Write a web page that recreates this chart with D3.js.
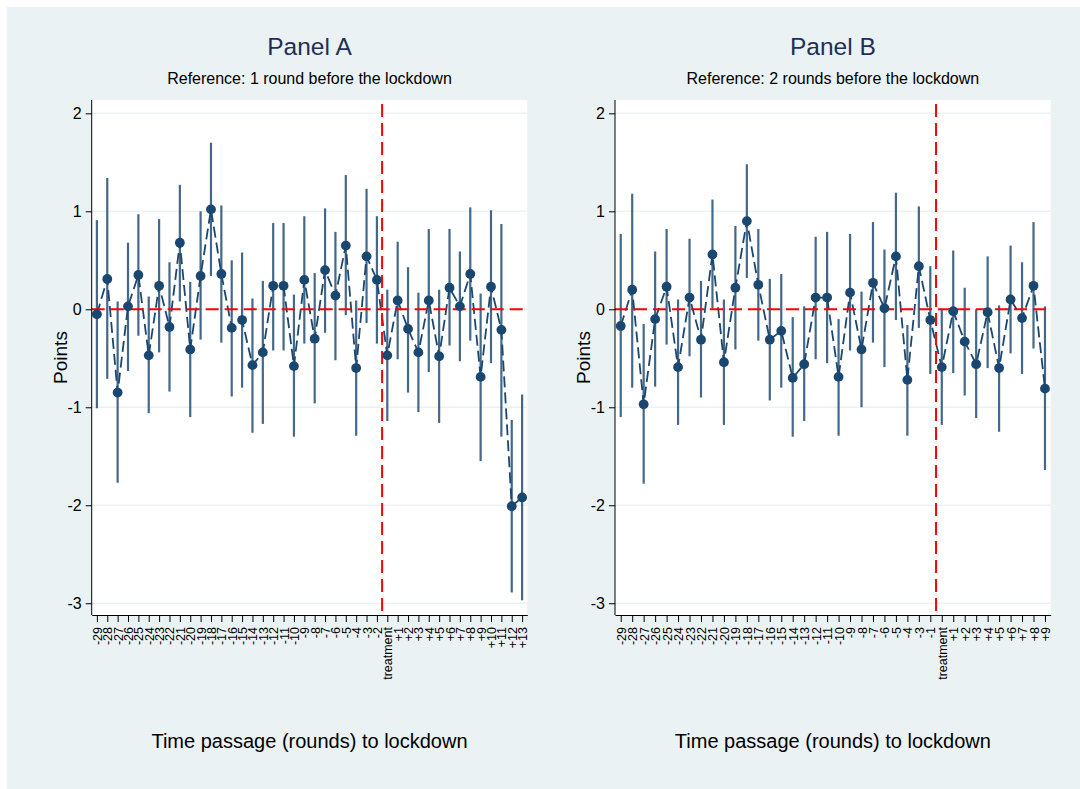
<!DOCTYPE html>
<html>
<head>
<meta charset="utf-8">
<script src="https://cdn.jsdelivr.net/npm/d3@7"></script>
<style>
  body { margin: 0; background: #fff; }
  text { font-family: "Liberation Sans", Arial, sans-serif; }
</style>
</head>
<body>
<svg id="chart" width="1080" height="789"></svg>
<script>
// Panel A: reference = 1 round before lockdown (-1 omitted)
var catsA = ["-29","-28","-27","-26","-25","-24","-23","-22","-21","-20","-19","-18","-17","-16","-15",
  "-14","-13","-12","-11","-10","-9","-8","-7","-6","-5","-4","-3","-2","treatment",
  "+1","+2","+3","+4","+5","+6","+7","+8","+9","+10","+11","+12","+13"];
var coefA = [-0.05, 0.31, -0.85, 0.03, 0.35, -0.47, 0.24, -0.18, 0.68, -0.41, 0.34, 1.02, 0.36, -0.19, -0.11,
  -0.57, -0.44, 0.24, 0.24, -0.58, 0.30, -0.30, 0.40, 0.14, 0.65, -0.60, 0.54, 0.30, -0.47,
  0.09, -0.20, -0.44, 0.09, -0.48, 0.22, 0.03, 0.36, -0.69, 0.23, -0.21, -2.01, -1.92];
var loA = [-1.01, -0.71, -1.77, -0.63, -0.27, -1.06, -0.44, -0.84, 0.08, -1.10, -0.31, 0.34, -0.34, -0.89, -0.80,
  -1.26, -1.17, -0.42, -0.42, -1.30, -0.35, -0.96, -0.24, -0.52, -0.06, -1.29, -0.14, -0.35, -1.14,
  -0.51, -0.85, -1.05, -0.64, -1.16, -0.37, -0.53, -0.32, -1.55, -0.55, -1.30, -2.89, -2.97];
var hiA = [0.91, 1.34, 0.08, 0.68, 0.97, 0.13, 0.92, 0.48, 1.27, 0.28, 1.00, 1.70, 1.06, 0.50, 0.58,
  0.11, 0.29, 0.88, 0.88, 0.15, 0.95, 0.37, 1.03, 0.79, 1.37, 0.09, 1.23, 0.95, 0.20,
  0.69, 0.43, 0.17, 0.82, 0.20, 0.82, 0.59, 1.04, 0.16, 1.01, 0.87, -1.13, -0.87];

// Panel B: reference = 2 rounds before lockdown (-2 omitted)
var catsB = ["-29","-28","-27","-26","-25","-24","-23","-22","-21","-20","-19","-18","-17","-16","-15",
  "-14","-13","-12","-11","-10","-9","-8","-7","-6","-5","-4","-3","-1","treatment",
  "+1","+2","+3","+4","+5","+6","+7","+8","+9"];
var coefB = [-0.17, 0.20, -0.97, -0.10, 0.23, -0.59, 0.12, -0.31, 0.56, -0.54, 0.22, 0.90, 0.25, -0.31, -0.22,
  -0.70, -0.56, 0.12, 0.12, -0.69, 0.17, -0.41, 0.27, 0.01, 0.54, -0.72, 0.44, -0.11, -0.59,
  -0.02, -0.33, -0.56, -0.03, -0.60, 0.10, -0.09, 0.24, -0.81];
var loB = [-1.10, -0.80, -1.78, -0.79, -0.36, -1.18, -0.48, -0.90, 0.01, -1.18, -0.41, 0.32, -0.32, -0.93, -0.80,
  -1.30, -1.14, -0.51, -0.55, -1.29, -0.42, -1.00, -0.34, -0.59, -0.11, -1.29, -0.19, -0.66, -1.18,
  -0.65, -0.88, -1.11, -0.60, -1.25, -0.45, -0.66, -0.40, -1.64];
var hiB = [0.77, 1.18, -0.15, 0.59, 0.82, 0.10, 0.72, 0.29, 1.12, 0.10, 0.85, 1.48, 0.82, 0.31, 0.36,
  -0.08, 0.03, 0.74, 0.79, -0.10, 0.77, 0.18, 0.89, 0.61, 1.19, -0.16, 1.05, 0.44, 0.00,
  0.60, 0.22, 0.00, 0.54, 0.04, 0.65, 0.48, 0.89, 0.03];

var yTicks = [2, 1, 0, -1, -2, -3];
var titles = ["Panel A", "Panel B"];
var subtitles = ["Reference: 1 round before the lockdown", "Reference: 2 rounds before the lockdown"];
var xTitle = "Time passage (rounds) to lockdown";
var yTitle = "Points";

var navy = "#1a476f";
var svg = d3.select("#chart");

svg.append("rect")
  .attr("x", 7).attr("y", 7)
  .attr("width", 1073).attr("height", 782)
  .attr("fill", "#eaf2f3");

var panels = [
  { cats: catsA, coef: coefA, lo: loA, hi: hiA, x0: 91.7, x1: 527.3 },
  { cats: catsB, coef: coefB, lo: loB, hi: hiB, x0: 615, x1: 1050.7 }
];

var plotTop = 100, plotBottom = 615;

panels.forEach(function(p, k) {
  var g = svg.append("g");
  var x = d3.scalePoint().domain(p.cats).range([p.x0, p.x1]).padding(0.5);
  var y = d3.scaleLinear().domain([-3.12, 2.136]).range([plotBottom, plotTop]);
  var cx = (p.x0 + p.x1) / 2;

  // plot region
  g.append("rect")
    .attr("x", p.x0).attr("y", plotTop)
    .attr("width", p.x1 - p.x0).attr("height", plotBottom - plotTop)
    .attr("fill", "#fff");

  // gridlines
  g.selectAll(".grid").data(yTicks).enter().append("line")
    .attr("x1", p.x0).attr("x2", p.x1)
    .attr("y1", function(d) { return y(d); })
    .attr("y2", function(d) { return y(d); })
    .attr("stroke", "#eaf2f3").attr("stroke-width", 1.5);

  var data = p.cats.map(function(c, i) {
    return { c: c, v: p.coef[i], lo: p.lo[i], hi: p.hi[i] };
  });

  // confidence spikes
  g.selectAll(".ci").data(data).enter().append("line")
    .attr("x1", function(d) { return x(d.c); })
    .attr("x2", function(d) { return x(d.c); })
    .attr("y1", function(d) { return y(d.lo); })
    .attr("y2", function(d) { return y(d.hi); })
    .attr("stroke", navy).attr("stroke-opacity", 0.82)
    .attr("stroke-width", 2.2);

  // connecting dashed line
  var line = d3.line()
    .x(function(d) { return x(d.c); })
    .y(function(d) { return y(d.v); });
  g.append("path").datum(data)
    .attr("d", line)
    .attr("fill", "none")
    .attr("stroke", navy).attr("stroke-width", 1.8)
    .attr("stroke-dasharray", "11,5");

  // reference lines
  var xl = x(p.cats[27]) + x.step() / 2;
  g.append("line")
    .attr("x1", p.x0).attr("x2", p.x1)
    .attr("y1", y(0)).attr("y2", y(0))
    .attr("stroke", "#ff0000").attr("stroke-width", 2)
    .attr("stroke-dasharray", "13,6");
  g.append("line")
    .attr("x1", xl).attr("x2", xl)
    .attr("y1", plotTop + 4).attr("y2", plotBottom)
    .attr("stroke", "#ff0000").attr("stroke-width", 2)
    .attr("stroke-dasharray", "13,6");

  // markers
  g.selectAll(".pt").data(data).enter().append("circle")
    .attr("cx", function(d) { return x(d.c); })
    .attr("cy", function(d) { return y(d.v); })
    .attr("r", 4.9)
    .attr("fill", navy);

  // axes
  var ya = g.append("g")
    .attr("transform", "translate(" + p.x0 + ",0)")
    .call(d3.axisLeft(y).tickValues(yTicks).tickSize(6).tickPadding(4)
      .tickFormat(function(d) { return String(d); }));
  ya.select(".domain").attr("stroke", "#000").attr("d", "M0," + plotTop + "V" + plotBottom);
  ya.selectAll("text").attr("font-size", 16).attr("fill", "#000")
    .attr("font-family", "Liberation Sans, Arial, sans-serif");
  ya.selectAll(".tick line").attr("stroke", "#000");

  var xa = g.append("g")
    .attr("transform", "translate(0," + plotBottom + ")")
    .call(d3.axisBottom(x).tickSize(7).tickSizeOuter(0));
  xa.select(".domain").attr("stroke", "#000");
  xa.selectAll(".tick line").attr("stroke", "#000");
  xa.selectAll("text")
    .attr("font-size", 12.5).attr("fill", "#000")
    .attr("font-family", "Liberation Sans, Arial, sans-serif")
    .attr("transform", "rotate(-90)")
    .attr("text-anchor", "end")
    .attr("x", -12).attr("y", 0).attr("dy", "0.36em");

  // titles
  svg.append("text")
    .attr("x", cx).attr("y", 55)
    .attr("text-anchor", "middle")
    .attr("font-size", 24.5).attr("fill", "#1f2f57")
    .text(titles[k]);
  svg.append("text")
    .attr("x", cx).attr("y", 84)
    .attr("text-anchor", "middle")
    .attr("font-size", 16).attr("fill", "#000")
    .text(subtitles[k]);
  svg.append("text")
    .attr("x", cx).attr("y", 748)
    .attr("text-anchor", "middle")
    .attr("font-size", 20).attr("fill", "#000")
    .text(xTitle);
  svg.append("text")
    .attr("transform", "translate(" + (p.x0 - 25) + "," + ((plotTop + plotBottom) / 2) + ") rotate(-90)")
    .attr("text-anchor", "middle")
    .attr("font-size", 19).attr("fill", "#000")
    .text(yTitle);
});
</script>
</body>
</html>
